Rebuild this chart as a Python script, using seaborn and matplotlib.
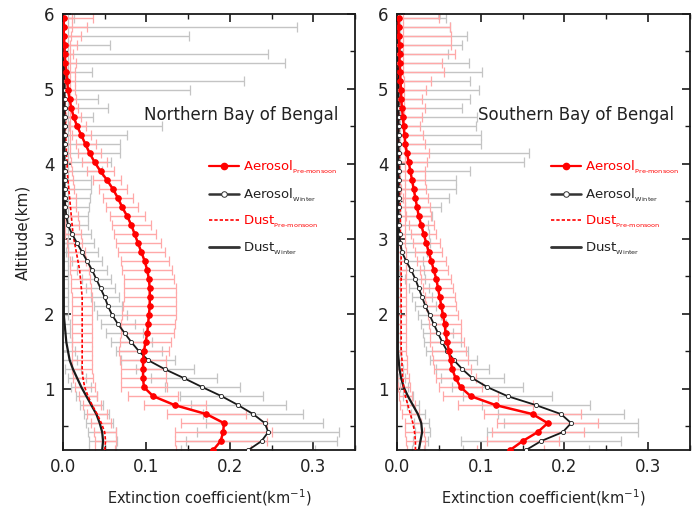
import numpy as np
import pandas as pd
import matplotlib
matplotlib.use("Agg")
import matplotlib.pyplot as plt
import seaborn as sns
from matplotlib.lines import Line2D

# ---------------- data ----------------
ALT = [0.18, 0.30, 0.42, 0.54, 0.66, 0.78, 0.90, 1.02, 1.14, 1.26,
       1.38, 1.50, 1.62, 1.74, 1.86, 1.98, 2.10, 2.22, 2.34, 2.46,
       2.58, 2.70, 2.82, 2.94, 3.06, 3.18, 3.30, 3.42, 3.54, 3.66,
       3.78, 3.90, 4.02, 4.14, 4.26, 4.38, 4.50, 4.62, 4.74, 4.86,
       4.98, 5.10, 5.22, 5.34, 5.46, 5.58, 5.70, 5.82, 5.94]

# Northern Bay of Bengal
N_AER_PRE = [0.180, 0.189, 0.192, 0.193, 0.172, 0.134, 0.108, 0.097, 0.096, 0.096,
             0.096, 0.097, 0.099, 0.101, 0.102, 0.103, 0.104, 0.104, 0.104, 0.103,
             0.101, 0.098, 0.094, 0.090, 0.086, 0.082, 0.077, 0.071, 0.066, 0.060,
             0.053, 0.045, 0.038, 0.032, 0.027, 0.022, 0.017, 0.013, 0.010, 0.008,
             0.006, 0.005, 0.004, 0.003, 0.002, 0.002, 0.001, 0.001, 0.001]
N_AER_PRE_ERR = [0.045, 0.055, 0.058, 0.052, 0.047, 0.037, 0.030, 0.028, 0.027, 0.027,
                 0.028, 0.030, 0.031, 0.032, 0.032, 0.032, 0.032, 0.031, 0.031, 0.030,
                 0.030, 0.029, 0.028, 0.027, 0.025, 0.023, 0.021, 0.019, 0.018, 0.017,
                 0.017, 0.016, 0.015, 0.014, 0.012, 0.011, 0.010, 0.009, 0.008, 0.008,
                 0.008, 0.009, 0.010, 0.012, 0.010, 0.015, 0.020, 0.028, 0.035]
N_AER_WIN = [0.222, 0.238, 0.246, 0.242, 0.228, 0.210, 0.190, 0.167, 0.145, 0.122,
             0.102, 0.091, 0.082, 0.074, 0.066, 0.059, 0.054, 0.050, 0.045, 0.040,
             0.035, 0.029, 0.023, 0.017, 0.011, 0.006, 0.004, 0.003, 0.002, 0.002,
             0.002, 0.002, 0.002, 0.002, 0.002, 0.002, 0.002, 0.002, 0.002, 0.002,
             0.002, 0.002, 0.002, 0.001, 0.001, 0.001, 0.001, 0.001, 0.001]
N_AER_WIN_ERR = [0.080, 0.090, 0.085, 0.070, 0.060, 0.057, 0.050, 0.045, 0.040, 0.035,
                 0.032, 0.028, 0.025, 0.022, 0.020, 0.018, 0.017, 0.017, 0.017, 0.017,
                 0.018, 0.018, 0.019, 0.020, 0.022, 0.024, 0.026, 0.028, 0.030, 0.032,
                 0.032, 0.045, 0.055, 0.066, 0.066, 0.075, 0.117, 0.034, 0.052, 0.040,
                 0.150, 0.215, 0.033, 0.265, 0.245, 0.055, 0.150, 0.280, 0.012]
N_DUST_PRE = [0.050, 0.051, 0.050, 0.046, 0.041, 0.035, 0.030, 0.026, 0.024, 0.023,
              0.023, 0.023, 0.023, 0.023, 0.023, 0.023, 0.023, 0.023, 0.022, 0.021,
              0.020, 0.018, 0.016, 0.014, 0.012, 0.011, 0.010, 0.009, 0.008, 0.007,
              0.006, 0.005, 0.005, 0.004, 0.004, 0.003, 0.003, 0.003, 0.002, 0.002,
              0.002, 0.002, 0.002, 0.001, 0.001, 0.001, 0.001, 0.001, 0.001]
N_DUST_PRE_ERR = [0.012, 0.013, 0.013, 0.012, 0.012, 0.011, 0.011, 0.012, 0.012, 0.012,
                  0.012, 0.012, 0.012, 0.012, 0.012, 0.012, 0.012, 0.012, 0.012, 0.011,
                  0.011, 0.010, 0.010, 0.009, 0.009, 0.008, 0.008, 0.007, 0.007, 0.006,
                  0.006, 0.006, 0.005, 0.005, 0.005, 0.005, 0.005, 0.005, 0.006, 0.006,
                  0.006, 0.007, 0.007, 0.008, 0.008, 0.008, 0.009, 0.010, 0.010]
N_DUST_WIN = [0.047, 0.048, 0.047, 0.044, 0.040, 0.034, 0.028, 0.022, 0.017, 0.012,
              0.008, 0.006, 0.004, 0.003, 0.002, 0.001, 0.001, 0.001, 0.001, 0.001,
              0.001, 0.001, 0.001, 0.001, 0.001, 0.001, 0.001, 0.001, 0.001, 0.001,
              0.001, 0.001, 0.001, 0.001, 0.001, 0.001, 0.001, 0.001, 0.001, 0.001,
              0.001, 0.001, 0.001, 0.001, 0.001, 0.001, 0.001, 0.001, 0.001]
N_DUST_WIN_ERR = [0.016, 0.017, 0.017, 0.016, 0.015, 0.014, 0.013, 0.012, 0.011, 0.010,
                  0.009, 0.008, 0.007, 0.006, 0.006, 0.005, 0.005, 0.005, 0.005, 0.005,
                  0.005, 0.005, 0.005, 0.005, 0.005, 0.005, 0.005, 0.005, 0.005, 0.005,
                  0.005, 0.005, 0.005, 0.005, 0.005, 0.005, 0.005, 0.005, 0.005, 0.005,
                  0.005, 0.005, 0.005, 0.005, 0.005, 0.005, 0.005, 0.005, 0.005]

# Southern Bay of Bengal
S_AER_PRE = [0.135, 0.150, 0.168, 0.180, 0.162, 0.118, 0.088, 0.076, 0.070, 0.066,
             0.064, 0.062, 0.060, 0.058, 0.057, 0.055, 0.053, 0.051, 0.049, 0.047,
             0.044, 0.041, 0.038, 0.035, 0.032, 0.029, 0.026, 0.024, 0.022, 0.020,
             0.018, 0.016, 0.014, 0.012, 0.010, 0.009, 0.008, 0.007, 0.006, 0.005,
             0.005, 0.004, 0.004, 0.003, 0.003, 0.003, 0.002, 0.002, 0.002]
S_AER_PRE_ERR = [0.040, 0.043, 0.055, 0.060, 0.058, 0.045, 0.033, 0.026, 0.024, 0.022,
                 0.021, 0.020, 0.020, 0.019, 0.019, 0.018, 0.018, 0.018, 0.018, 0.018,
                 0.017, 0.017, 0.016, 0.016, 0.015, 0.015, 0.015, 0.015, 0.015, 0.015,
                 0.016, 0.018, 0.022, 0.026, 0.024, 0.022, 0.020, 0.023, 0.027, 0.025,
                 0.030, 0.037, 0.052, 0.051, 0.066, 0.061, 0.063, 0.061, 0.048]
S_AER_WIN = [0.154, 0.172, 0.198, 0.208, 0.196, 0.166, 0.132, 0.108, 0.090, 0.078,
             0.068, 0.060, 0.054, 0.049, 0.044, 0.039, 0.034, 0.030, 0.026, 0.022,
             0.017, 0.011, 0.006, 0.004, 0.003, 0.002, 0.002, 0.002, 0.002, 0.002,
             0.002, 0.002, 0.002, 0.002, 0.002, 0.002, 0.002, 0.002, 0.002, 0.002,
             0.002, 0.002, 0.002, 0.001, 0.001, 0.001, 0.001, 0.001, 0.001]
S_AER_WIN_ERR = [0.075, 0.095, 0.090, 0.080, 0.075, 0.065, 0.053, 0.042, 0.038, 0.032,
                 0.028, 0.025, 0.022, 0.018, 0.015, 0.014, 0.013, 0.012, 0.012, 0.012,
                 0.015, 0.020, 0.030, 0.035, 0.035, 0.035, 0.040, 0.050, 0.060, 0.068,
                 0.068, 0.085, 0.150, 0.156, 0.098, 0.098, 0.092, 0.094, 0.076, 0.085,
                 0.096, 0.085, 0.100, 0.085, 0.060, 0.077, 0.083, 0.062, 0.058]
S_DUST_PRE = [0.022, 0.022, 0.021, 0.019, 0.016, 0.013, 0.010, 0.008, 0.007, 0.006,
              0.006, 0.005, 0.005, 0.005, 0.005, 0.005, 0.005, 0.005, 0.005, 0.005,
              0.005, 0.005, 0.005, 0.004, 0.004, 0.004, 0.004, 0.004, 0.003, 0.003,
              0.003, 0.003, 0.003, 0.003, 0.002, 0.002, 0.002, 0.002, 0.002, 0.002,
              0.002, 0.002, 0.001, 0.001, 0.001, 0.001, 0.001, 0.001, 0.001]
S_DUST_PRE_ERR = [0.010, 0.011, 0.011, 0.010, 0.010, 0.009, 0.008, 0.007, 0.007, 0.006,
                  0.006, 0.006, 0.006, 0.006, 0.006, 0.006, 0.006, 0.006, 0.006, 0.006,
                  0.006, 0.006, 0.006, 0.006, 0.006, 0.006, 0.006, 0.006, 0.006, 0.006,
                  0.006, 0.006, 0.006, 0.006, 0.006, 0.006, 0.006, 0.006, 0.006, 0.006,
                  0.006, 0.006, 0.006, 0.006, 0.006, 0.006, 0.006, 0.006, 0.006]
S_DUST_WIN = [0.026, 0.028, 0.030, 0.029, 0.025, 0.019, 0.013, 0.008, 0.005, 0.003,
              0.002, 0.001, 0.001, 0.001, 0.001, 0.001, 0.001, 0.001, 0.001, 0.001,
              0.001, 0.001, 0.001, 0.001, 0.001, 0.001, 0.001, 0.001, 0.001, 0.001,
              0.001, 0.001, 0.001, 0.001, 0.001, 0.001, 0.001, 0.001, 0.001, 0.001,
              0.001, 0.001, 0.001, 0.001, 0.001, 0.001, 0.001, 0.001, 0.001]
S_DUST_WIN_ERR = [0.008, 0.009, 0.009, 0.009, 0.008, 0.007, 0.006, 0.005, 0.004, 0.004,
                  0.003, 0.003, 0.003, 0.003, 0.003, 0.003, 0.003, 0.003, 0.003, 0.003,
                  0.003, 0.003, 0.003, 0.003, 0.003, 0.003, 0.003, 0.003, 0.003, 0.003,
                  0.003, 0.003, 0.003, 0.003, 0.003, 0.003, 0.003, 0.003, 0.003, 0.003,
                  0.003, 0.003, 0.003, 0.003, 0.003, 0.003, 0.003, 0.003, 0.003]

TITLES = ["Northern Bay of Bengal", "Southern Bay of Bengal"]
LABELS = ["Aerosol$_{_{\\mathregular{Pre\u2010monsoon}}}$", "Aerosol$_{_{\\mathregular{Winter}}}$",
          "Dust$_{_{\\mathregular{Pre\u2010monsoon}}}$", "Dust$_{_{\\mathregular{Winter}}}$"]
X_LABEL = "Extinction coefficient(km$^{\\mathregular{-1}}$)"
Y_LABEL = "Altitude(km)"

# ---------------- style ----------------
sns.set_style("ticks")
plt.rcParams["font.family"] = ["DejaVu Sans"]
plt.rcParams["mathtext.fontset"] = "dejavusans"

RED = "#ff0000"
PINK = "#ffa8a8"
PINK_CAP = "#ff6a6a"
GRAY = "#c4c4c4"
GRAY_CAP = "#6e6e6e"

fig = plt.figure(figsize=(6.96, 5.15), dpi=100)
axL = fig.add_axes([0.0905, 0.126, 0.4195, 0.847])
axR = fig.add_axes([0.5704, 0.126, 0.421, 0.847])


def errbars(ax, x, err, ecol, ccol, z):
    cont = ax.errorbar(x, ALT, xerr=err, fmt="none", ecolor=ecol,
                       elinewidth=1.0, capsize=3.5, capthick=0.9, zorder=z)
    for c in cont[1]:
        c.set_color(ccol)


def panel(ax, aer_pre, aer_pre_err, aer_win, aer_win_err,
          dust_pre, dust_pre_err, dust_win, dust_win_err, title, legx):
    errbars(ax, aer_win, aer_win_err, GRAY, GRAY_CAP, 1)
    errbars(ax, dust_win, dust_win_err, GRAY, GRAY_CAP, 1)
    errbars(ax, aer_pre, aer_pre_err, PINK, PINK_CAP, 2)
    errbars(ax, dust_pre, dust_pre_err, PINK, PINK_CAP, 2)

    df = pd.DataFrame({"alt": ALT, "aer_pre": aer_pre, "aer_win": aer_win,
                       "dust_pre": dust_pre, "dust_win": dust_win})
    sns.lineplot(data=df, x="dust_win", y="alt", orient="y", sort=False, estimator=None,
                 color="#1a1a1a", lw=1.6, ax=ax, zorder=4)
    sns.lineplot(data=df, x="dust_pre", y="alt", orient="y", sort=False, estimator=None,
                 color=RED, lw=1.2, dashes=(2, 1.2), ax=ax, zorder=4)
    sns.lineplot(data=df, x="aer_win", y="alt", orient="y", sort=False, estimator=None,
                 color="#1a1a1a", lw=1.3, marker="o", markersize=3,
                 markerfacecolor="white", markeredgecolor="#1a1a1a", markeredgewidth=0.6,
                 ax=ax, zorder=5)
    sns.lineplot(data=df, x="aer_pre", y="alt", orient="y", sort=False, estimator=None,
                 color=RED, lw=1.8, marker="o", markersize=4,
                 markerfacecolor=RED, markeredgecolor=RED, ax=ax, zorder=6)

    ax.set_xlim(0, 0.35)
    ax.set_ylim(0.18, 6.0)
    ax.set_xticks([0.0, 0.1, 0.2, 0.3])
    ax.set_xticklabels(["0.0", "0.1", "0.2", "0.3"])
    ax.set_xticks([0.05, 0.15, 0.25, 0.35], minor=True)
    ax.set_yticks([1, 2, 3, 4, 5, 6])
    ax.set_yticks([0.5, 1.5, 2.5, 3.5, 4.5, 5.5], minor=True)
    ax.tick_params(which="both", direction="in", top=True, right=True,
                   color="#1a1a1a", labelsize=12, labelcolor="#222222", pad=6)
    ax.tick_params(which="major", length=6, width=1.2)
    ax.tick_params(which="minor", length=3.5, width=1.0)
    for s in ax.spines.values():
        s.set_linewidth(1.3)
        s.set_color("#1a1a1a")
    ax.set_xlabel(X_LABEL, fontsize=10.5, color="#222222", labelpad=8)
    ax.set_ylabel("")

    ax.text(0.61, 0.768, title, transform=ax.transAxes, ha="center", va="center",
            fontsize=12, color="#222222")

    handles = [
        Line2D([], [], color=RED, lw=1.6, marker="o", markersize=4.5,
               markerfacecolor=RED, markeredgecolor=RED),
        Line2D([], [], color="#333333", lw=1.8, marker="o", markersize=4,
               markerfacecolor="white", markeredgecolor="#333333", markeredgewidth=0.7),
        Line2D([], [], color=RED, lw=1.2, dashes=(2, 1.2)),
        Line2D([], [], color="#333333", lw=2.0),
    ]
    leg = ax.legend(handles, LABELS, loc="upper left", bbox_to_anchor=(legx, 0.668),
                    frameon=False, fontsize=9.5, handlelength=2.3, handletextpad=0.3,
                    labelspacing=0.75, borderaxespad=0, borderpad=0,
                    labelcolor=[RED, "#222222", RED, "#222222"])
    return leg


panel(axL, N_AER_PRE, N_AER_PRE_ERR, N_AER_WIN, N_AER_WIN_ERR,
      N_DUST_PRE, N_DUST_PRE_ERR, N_DUST_WIN, N_DUST_WIN_ERR, TITLES[0], 0.50)
panel(axR, S_AER_PRE, S_AER_PRE_ERR, S_AER_WIN, S_AER_WIN_ERR,
      S_DUST_PRE, S_DUST_PRE_ERR, S_DUST_WIN, S_DUST_WIN_ERR, TITLES[1], 0.525)

axL.set_ylabel(Y_LABEL, fontsize=11, color="#222222", labelpad=10)

fig.savefig("out.png", dpi=100)
